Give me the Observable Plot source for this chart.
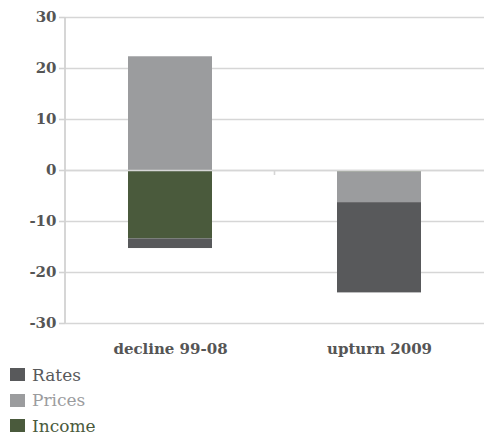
<!DOCTYPE html>
<html><head><meta charset="utf-8">
<script src="https://cdn.jsdelivr.net/npm/d3@7"></script>
<script src="https://cdn.jsdelivr.net/npm/@observablehq/plot@0.6"></script>
<style>
body{margin:0;background:#fff;font-family:"DejaVu Serif",serif;}
#legend{margin-left:10px;}
.row{height:25.5px;display:flex;align-items:center;font-size:17px;}
.sw{width:15px;height:13px;margin-right:7px;display:inline-block;}
</style></head><body><div id="chart"></div><div id="legend"></div><script>
const categories = ["decline 99-08", "upturn 2009"];
const series = ["Income", "Prices", "Rates"];
const income = [-13.4, -0.3];
const prices = [22.3, -6.0];
const rates = [-1.9, -17.7];
const colors = ["#4a5a3c", "#9b9c9e", "#58595b"];
const yTicks = [-30, -20, -10, 0, 10, 20, 30];
const legendOrder = ["Rates", "Prices", "Income"];

const values = [income, prices, rates];
const data = series.flatMap((s, i) => categories.map((c, j) => ({category: c, series: s, value: values[i][j]})));

const plot = Plot.plot({
  width: 484, height: 362,
  marginLeft: 65, marginRight: 0, marginTop: 17, marginBottom: 39,
  style: {fontFamily: "DejaVu Serif, serif", fontSize: "15px", fontWeight: "bold", color: "#555", background: "#fff"},
  x: {domain: categories, paddingInner: 0.6, paddingOuter: 0.3, label: null},
  y: {domain: [-30, 30], label: null},
  color: {domain: series, range: colors},
  marks: [
    Plot.gridY(yTicks, {stroke: "#d6d6d6", strokeOpacity: 1, strokeWidth: 1.6}),
    Plot.barY(data, Plot.stackY({x: "category", y: "value", fill: "series", order: series})),
    Plot.ruleY([0], {stroke: "#d6d6d6", strokeWidth: 1.6}),
    Plot.axisY(yTicks, {tickSize: 6, tickPadding: 3, stroke: "#d2d2d2", strokeWidth: 1.6, fill: "#555", label: null, tickFormat: d => String(d)}),
    Plot.axisX({tickSize: 0, tickPadding: 20, fill: "#555", label: null})
  ]
});
document.getElementById("chart").appendChild(plot);

const xs = plot.scale("x"), ys = plot.scale("y");
// left axis line along the y range
const xl = xs.range[0];
d3.select(plot).append("line")
  .attr("x1", xl).attr("x2", xl).attr("y1", ys.range[0]).attr("y2", ys.range[1])
  .attr("stroke", "#d2d2d2").attr("stroke-width", 1.8);
// category boundary tick on the zero line, from the x scale
const bx = xs.apply(categories[1]) - (xs.step - xs.bandwidth) / 2;
const y0 = ys.apply(0);
d3.select(plot).append("line")
  .attr("x1", bx).attr("x2", bx).attr("y1", y0).attr("y2", y0 + 5)
  .attr("stroke", "#d6d6d6").attr("stroke-width", 1.6);

const leg = d3.select("#legend");
legendOrder.forEach(name => {
  const c = colors[series.indexOf(name)];
  const r = leg.append("div").attr("class", "row").style("color", c);
  r.append("span").attr("class", "sw").style("background", c);
  r.append("span").text(name);
});
</script></body></html>
